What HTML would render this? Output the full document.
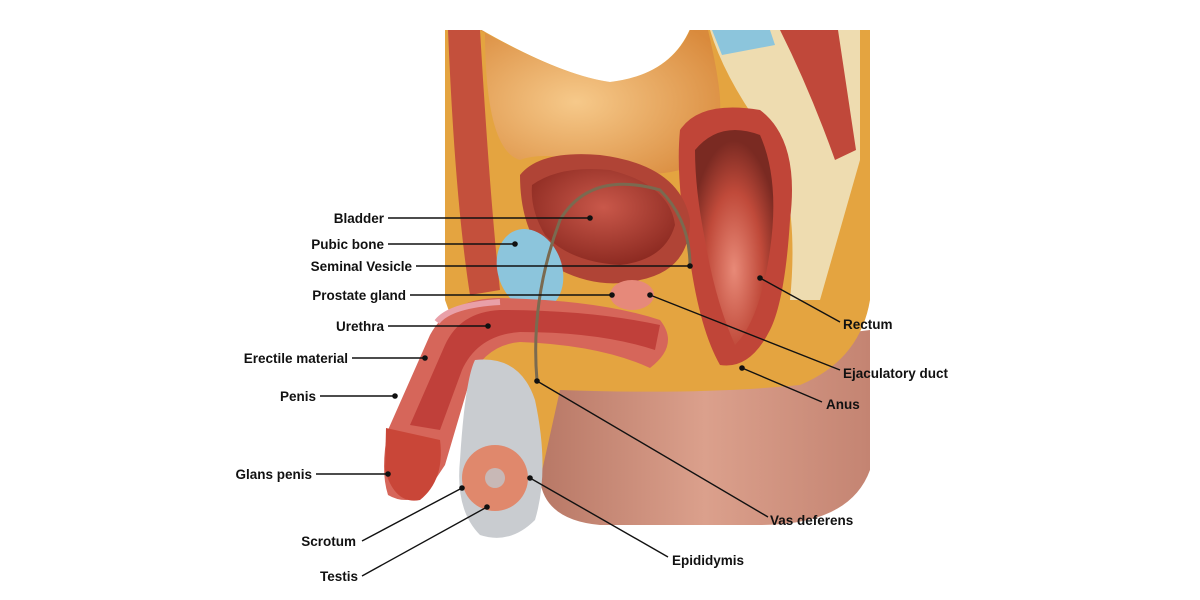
<!DOCTYPE html>
<html><head><meta charset="utf-8"><style>
html,body{margin:0;padding:0;background:#fff;}
svg{display:block}
text{font-family:"Liberation Sans",Arial,sans-serif;font-size:13.5px;font-weight:bold;fill:#111;}
</style></head><body>
<svg width="1200" height="600" viewBox="0 0 1200 600" xmlns="http://www.w3.org/2000/svg">
<defs>
<radialGradient id="cav" cx="0.4" cy="0.5" r="0.7"><stop offset="0" stop-color="#f6c98a"/><stop offset="1" stop-color="#d98a3c"/></radialGradient>
<linearGradient id="thigh" x1="0" y1="0" x2="1" y2="0"><stop offset="0" stop-color="#b87866"/><stop offset="0.5" stop-color="#dba08c"/><stop offset="1" stop-color="#c48472"/></linearGradient>
<radialGradient id="bl" cx="0.5" cy="0.4" r="0.6"><stop offset="0" stop-color="#c9584a"/><stop offset="1" stop-color="#8e2b22"/></radialGradient>
<radialGradient id="rect" cx="0.5" cy="0.65" r="0.6"><stop offset="0" stop-color="#e88a78"/><stop offset="0.6" stop-color="#c04a3a"/><stop offset="1" stop-color="#7a2a22"/></radialGradient>
</defs>
<path d="M540 370 L870 330 L870 470 Q850 525 760 525 L600 525 Q545 520 540 480 Z" fill="url(#thigh)"/>
<path d="M445 30 L870 30 L870 300 Q860 360 800 385 Q700 395 560 390 L540 480 L520 380 L470 370 L445 300 Z" fill="#e4a440"/>
<path d="M480 30 Q560 75 610 82 Q670 75 690 30 L708 30 Q722 90 720 112 Q690 125 680 170 Q640 180 600 165 Q545 150 520 160 Q485 150 485 30 Z" fill="url(#cav)"/>
<path d="M480 29 Q560 75 610 82 Q670 75 690 29 Z" fill="#fff"/>
<path d="M448 30 L480 30 Q490 200 500 290 L470 295 Q455 200 448 30 Z" fill="#c4503c"/>
<path d="M710 30 L860 30 L860 160 Q840 230 820 300 L790 300 Q800 200 770 140 Q725 80 710 30 Z" fill="#eedcb0"/>
<path d="M712 30 L770 30 L775 45 L722 55 Z" fill="#8cc5dc"/>
<path d="M780 30 L838 30 L856 150 L835 160 Q810 90 780 30 Z" fill="#c0483a"/>
<path d="M680 130 Q700 100 760 110 Q800 140 790 220 Q785 300 770 330 Q750 370 720 365 Q700 330 690 260 Q675 180 680 130 Z" fill="#c04538"/>
<path d="M695 150 Q720 120 760 135 Q780 180 770 250 Q760 320 735 345 Q715 300 705 240 Q695 190 695 150 Z" fill="url(#rect)"/>
<path d="M520 175 Q540 150 600 155 Q680 165 690 220 Q690 270 640 280 Q600 290 560 270 Q520 240 520 175 Z" fill="#b04436"/>
<path d="M532 185 Q560 165 610 170 Q670 185 675 225 Q665 260 620 265 Q570 262 545 235 Q530 210 532 185 Z" fill="url(#bl)"/>
<ellipse cx="530" cy="270" rx="32" ry="42" transform="rotate(-20 530 270)" fill="#8cc5dc"/>
<ellipse cx="632" cy="295" rx="22" ry="15" fill="#e6897a"/>
<path d="M660 320 Q600 300 500 298 Q450 298 430 335 L388 430 Q380 470 388 495 Q405 505 425 495 L445 465 L470 380 Q485 345 520 342 Q600 345 650 368 Q680 345 660 320 Z" fill="#d6665a"/>
<path d="M660 325 Q590 310 500 310 Q460 312 445 345 L410 425 L440 430 L462 370 Q478 335 520 332 Q600 332 655 350 Z" fill="#c0403a"/>
<path d="M437 322 Q450 305 500 302" stroke="#e9a0a8" stroke-width="6" fill="none"/>
<path d="M386 428 L440 440 Q445 480 420 500 Q395 505 385 470 Z" fill="#c94638"/>
<path d="M475 360 Q520 355 535 400 Q550 470 535 520 Q510 545 480 535 Q455 510 460 460 Q465 380 475 360 Z" fill="#c9ccd0"/>
<circle cx="495" cy="478" r="33" fill="#e0886c"/>
<circle cx="495" cy="478" r="10" fill="#b8d8e8" opacity="0.6"/>
<path d="M537 381 Q530 300 560 220 Q590 170 660 190 Q690 220 690 266" stroke="#7a6a50" stroke-width="3" fill="none"/>
<g stroke="#111" stroke-width="1.4" fill="none">
<line x1="388" y1="218" x2="590" y2="218"/>
<line x1="388" y1="244" x2="515" y2="244"/>
<line x1="416" y1="266" x2="690" y2="266"/>
<line x1="410" y1="295" x2="612" y2="295"/>
<line x1="388" y1="326" x2="488" y2="326"/>
<line x1="352" y1="358" x2="425" y2="358"/>
<line x1="320" y1="396" x2="395" y2="396"/>
<line x1="316" y1="474" x2="388" y2="474"/>
<line x1="362" y1="541" x2="462" y2="488"/>
<line x1="362" y1="576" x2="487" y2="507"/>
<line x1="760" y1="278" x2="840" y2="322"/>
<line x1="650" y1="295" x2="840" y2="370"/>
<line x1="742" y1="368" x2="822" y2="402"/>
<line x1="537" y1="381" x2="768" y2="517"/>
<line x1="530" y1="478" x2="668" y2="557"/>
</g>
<g fill="#111">
<circle cx="590" cy="218" r="2.8"/><circle cx="515" cy="244" r="2.8"/><circle cx="690" cy="266" r="2.8"/>
<circle cx="612" cy="295" r="2.8"/><circle cx="488" cy="326" r="2.8"/><circle cx="425" cy="358" r="2.8"/>
<circle cx="395" cy="396" r="2.8"/><circle cx="388" cy="474" r="2.8"/><circle cx="462" cy="488" r="2.8"/>
<circle cx="487" cy="507" r="2.8"/><circle cx="760" cy="278" r="2.8"/><circle cx="650" cy="295" r="2.8"/>
<circle cx="742" cy="368" r="2.8"/><circle cx="537" cy="381" r="2.8"/><circle cx="530" cy="478" r="2.8"/>
</g>
<g>
<text x="384" y="223" text-anchor="end">Bladder</text>
<text x="384" y="249" text-anchor="end">Pubic bone</text>
<text x="412" y="271" text-anchor="end">Seminal Vesicle</text>
<text x="406" y="300" text-anchor="end">Prostate gland</text>
<text x="384" y="331" text-anchor="end">Urethra</text>
<text x="348" y="363" text-anchor="end">Erectile material</text>
<text x="316" y="401" text-anchor="end">Penis</text>
<text x="312" y="479" text-anchor="end">Glans penis</text>
<text x="356" y="546" text-anchor="end">Scrotum</text>
<text x="358" y="581" text-anchor="end">Testis</text>
<text x="843" y="329">Rectum</text>
<text x="843" y="378">Ejaculatory duct</text>
<text x="826" y="409">Anus</text>
<text x="770" y="525">Vas deferens</text>
<text x="672" y="565">Epididymis</text>
</g>
</svg>
</body></html>
